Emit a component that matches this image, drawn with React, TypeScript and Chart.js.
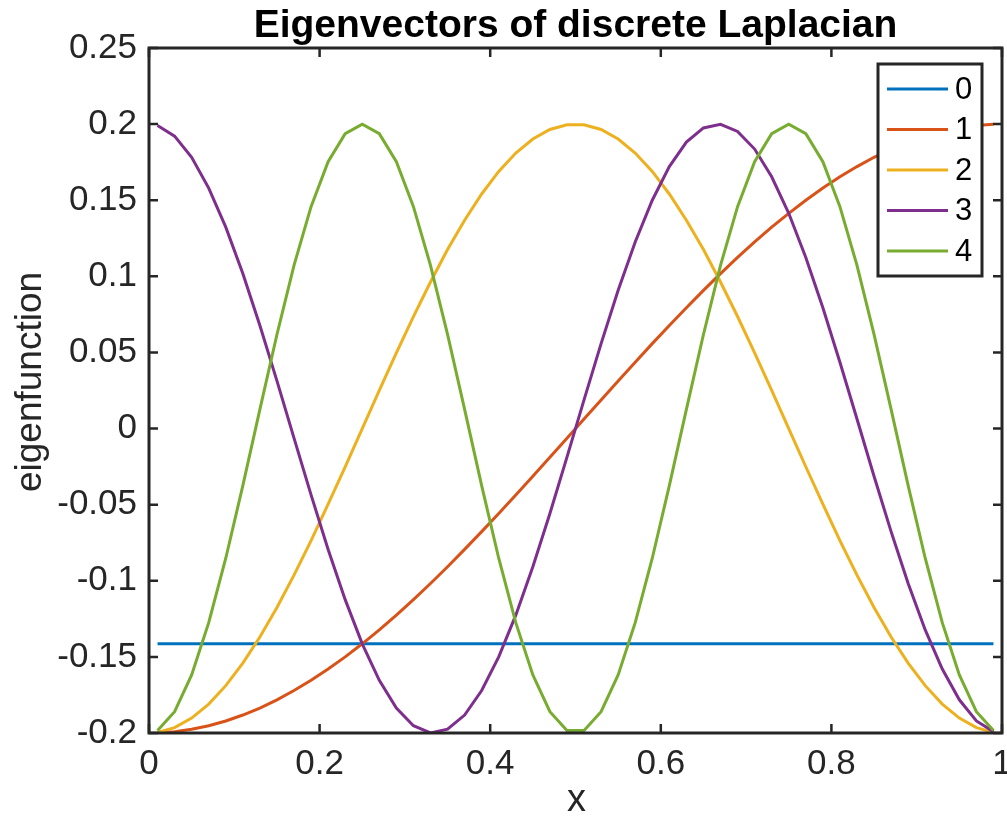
import React, { useEffect, useRef } from "react";
import { Chart, registerables } from "chart.js";

Chart.register(...registerables);

// ---------- data ----------
const xValues = [
  0.01, 0.03, 0.05, 0.07, 0.09, 0.11, 0.13, 0.15, 0.17, 0.19,
  0.21, 0.23, 0.25, 0.27, 0.29, 0.31, 0.33, 0.35, 0.37, 0.39,
  0.41, 0.43, 0.45, 0.47, 0.49, 0.51, 0.53, 0.55, 0.57, 0.59,
  0.61, 0.63, 0.65, 0.67, 0.69, 0.71, 0.73, 0.75, 0.77, 0.79,
  0.81, 0.83, 0.85, 0.87, 0.89, 0.91, 0.93, 0.95, 0.97, 0.99,
];

const mode0 = [
  -0.1414, -0.1414, -0.1414, -0.1414, -0.1414, -0.1414, -0.1414, -0.1414, -0.1414, -0.1414,
  -0.1414, -0.1414, -0.1414, -0.1414, -0.1414, -0.1414, -0.1414, -0.1414, -0.1414, -0.1414,
  -0.1414, -0.1414, -0.1414, -0.1414, -0.1414, -0.1414, -0.1414, -0.1414, -0.1414, -0.1414,
  -0.1414, -0.1414, -0.1414, -0.1414, -0.1414, -0.1414, -0.1414, -0.1414, -0.1414, -0.1414,
  -0.1414, -0.1414, -0.1414, -0.1414, -0.1414, -0.1414, -0.1414, -0.1414, -0.1414, -0.1414,
];

const mode1 = [
  -0.1999, -0.1991, -0.1975, -0.1952, -0.1921, -0.1882, -0.1836, -0.1782, -0.1721, -0.1654,
  -0.158, -0.15, -0.1414, -0.1323, -0.1226, -0.1124, -0.1018, -0.0908, -0.0794, -0.0677,
  -0.0558, -0.0436, -0.0313, -0.0188, -0.0063, 0.0063, 0.0188, 0.0313, 0.0436, 0.0558,
  0.0677, 0.0794, 0.0908, 0.1018, 0.1124, 0.1226, 0.1323, 0.1414, 0.15, 0.158,
  0.1654, 0.1721, 0.1782, 0.1836, 0.1882, 0.1921, 0.1952, 0.1975, 0.1991, 0.1999,
];

const mode2 = [
  -0.1996, -0.1965, -0.1902, -0.181, -0.1689, -0.1541, -0.1369, -0.1176, -0.0963, -0.0736,
  -0.0497, -0.0251, 0.0, 0.0251, 0.0497, 0.0736, 0.0963, 0.1176, 0.1369, 0.1541,
  0.1689, 0.181, 0.1902, 0.1965, 0.1996, 0.1996, 0.1965, 0.1902, 0.181, 0.1689,
  0.1541, 0.1369, 0.1176, 0.0963, 0.0736, 0.0497, 0.0251, 0.0, -0.0251, -0.0497,
  -0.0736, -0.0963, -0.1176, -0.1369, -0.1541, -0.1689, -0.181, -0.1902, -0.1965, -0.1996,
];

const mode3 = [
  0.1991, 0.1921, 0.1782, 0.158, 0.1323, 0.1018, 0.0677, 0.0313, -0.0063, -0.0436,
  -0.0794, -0.1124, -0.1414, -0.1654, -0.1836, -0.1952, -0.1999, -0.1975, -0.1882, -0.1721,
  -0.15, -0.1226, -0.0908, -0.0558, -0.0188, 0.0188, 0.0558, 0.0908, 0.1226, 0.15,
  0.1721, 0.1882, 0.1975, 0.1999, 0.1952, 0.1836, 0.1654, 0.1414, 0.1124, 0.0794,
  0.0436, 0.0063, -0.0313, -0.0677, -0.1018, -0.1323, -0.158, -0.1782, -0.1921, -0.1991,
];

const mode4 = [
  -0.1984, -0.186, -0.1618, -0.1275, -0.0852, -0.0375, 0.0126, 0.0618, 0.1072, 0.1458,
  0.1753, 0.1937, 0.2, 0.1937, 0.1753, 0.1458, 0.1072, 0.0618, 0.0126, -0.0375,
  -0.0852, -0.1275, -0.1618, -0.186, -0.1984, -0.1984, -0.186, -0.1618, -0.1275, -0.0852,
  -0.0375, 0.0126, 0.0618, 0.1072, 0.1458, 0.1753, 0.1937, 0.2, 0.1937, 0.1753,
  0.1458, 0.1072, 0.0618, 0.0126, -0.0375, -0.0852, -0.1275, -0.1618, -0.186, -0.1984,
];

const seriesLabels = ["0", "1", "2", "3", "4"];
const seriesColors = ["#0072BD", "#D95319", "#EDB120", "#7E2F8E", "#77AC30"];

const xTicks = [0, 0.2, 0.4, 0.6, 0.8, 1];
const xTickLabels = ["0", "0.2", "0.4", "0.6", "0.8", "1"];
const yTicks = [-0.2, -0.15, -0.1, -0.05, 0, 0.05, 0.1, 0.15, 0.2, 0.25];
const yTickLabels = ["-0.2", "-0.15", "-0.1", "-0.05", "0", "0.05", "0.1", "0.15", "0.2", "0.25"];

const titleText = "Eigenvectors of discrete Laplacian";
const xAxisLabel = "x";
const yAxisLabel = "eigenfunction";

// ---------- styling ----------
const FONT = '"Liberation Sans", Arial, Helvetica, sans-serif';
const AXIS_COLOR = "#262626";

const framePlugin = {
  id: "matlabFrame",
  afterDatasetsDraw(chart: any) {
    const { ctx, chartArea, scales } = chart;
    const { left, right, top, bottom } = chartArea;
    const xs = scales.x;
    const ys = scales.y;
    const tl = 9;
    ctx.save();
    ctx.strokeStyle = AXIS_COLOR;
    ctx.lineWidth = 2.5;
    ctx.beginPath();
    xTicks.forEach((v) => {
      const px = xs.getPixelForValue(v);
      ctx.moveTo(px, bottom);
      ctx.lineTo(px, bottom - tl);
      ctx.moveTo(px, top);
      ctx.lineTo(px, top + tl);
    });
    yTicks.forEach((v) => {
      const py = ys.getPixelForValue(v);
      ctx.moveTo(left, py);
      ctx.lineTo(left + tl, py);
      ctx.moveTo(right, py);
      ctx.lineTo(right - tl, py);
    });
    ctx.stroke();
    ctx.lineWidth = 3;
    ctx.strokeRect(left, top, right - left, bottom - top);
    ctx.restore();
  },
  afterDraw(chart: any) {
    const { ctx, chartArea } = chart;
    const { left, right } = chartArea;
    const cx = (left + right) / 2;
    ctx.save();
    // title
    ctx.fillStyle = "#000000";
    ctx.font = `bold 39px ${FONT}`;
    ctx.textAlign = "center";
    ctx.textBaseline = "alphabetic";
    ctx.fillText(titleText, cx, 37);
    // x label
    ctx.fillStyle = AXIS_COLOR;
    ctx.font = `38px ${FONT}`;
    ctx.fillText(xAxisLabel, cx + 1, 811);
    // y label
    ctx.save();
    ctx.translate(41, 382);
    ctx.rotate(-Math.PI / 2);
    ctx.font = `37px ${FONT}`;
    ctx.fillText(yAxisLabel, 0, 0);
    ctx.restore();

    // legend
    const lx = 878, ly = 64, lw = 104, lh = 212;
    ctx.fillStyle = "#ffffff";
    ctx.fillRect(lx, ly, lw, lh);
    ctx.strokeStyle = AXIS_COLOR;
    ctx.lineWidth = 3;
    ctx.strokeRect(lx, ly, lw, lh);
    ctx.font = `31px ${FONT}`;
    ctx.textAlign = "left";
    ctx.textBaseline = "middle";
    chart.data.datasets.forEach((ds: any, i: number) => {
      const ry = ly + 25 + i * 40.5;
      ctx.strokeStyle = ds.borderColor;
      ctx.lineWidth = 3;
      ctx.beginPath();
      ctx.moveTo(887, ry);
      ctx.lineTo(948, ry);
      ctx.stroke();
      ctx.fillStyle = "#000000";
      ctx.fillText(ds.label, 955, ry + 1);
    });
    ctx.restore();
  },
};

export default function App() {
  const canvasRef = useRef<HTMLCanvasElement | null>(null);

  useEffect(() => {
    const canvas = canvasRef.current;
    if (!canvas) return;
    const modes = [mode0, mode1, mode2, mode3, mode4];
    const datasets = modes.map((m, i) => ({
      label: seriesLabels[i],
      data: m.map((v, j) => ({ x: xValues[j], y: v })),
      borderColor: seriesColors[i],
      backgroundColor: seriesColors[i],
      borderWidth: 3,
      pointRadius: 0,
      pointHoverRadius: 0,
      tension: 0,
      fill: false,
      order: modes.length - 1 - i,
    }));

    const tickFont = { family: FONT, size: 35 };

    const chart = new Chart(canvas, {
      type: "line",
      data: { datasets },
      options: {
        animation: false,
        responsive: false,
        devicePixelRatio: 1,
        layout: { padding: { left: 0, right: 5, top: 48, bottom: 0 } },
        plugins: {
          legend: { display: false },
          title: { display: false },
          tooltip: { enabled: false },
        },
        scales: {
          x: {
            type: "linear",
            min: 0,
            max: 1,
            afterBuildTicks: (s: any) => {
              s.ticks = xTicks.map((v) => ({ value: v }));
            },
            afterFit: (s: any) => {
              s.height = 83;
              s.paddingLeft = 0;
              s.paddingRight = 0;
            },
            ticks: {
              autoSkip: false,
              maxRotation: 0,
              minRotation: 0,
              padding: 10,
              color: AXIS_COLOR,
              font: tickFont,
              callback: (v: any) => {
                const k = xTicks.indexOf(Number(v));
                return k >= 0 ? xTickLabels[k] : "";
              },
            },
            grid: { display: false, drawTicks: false },
            border: { display: false },
          },
          y: {
            type: "linear",
            min: -0.2,
            max: 0.25,
            afterBuildTicks: (s: any) => {
              s.ticks = yTicks.map((v) => ({ value: v }));
            },
            afterFit: (s: any) => {
              s.width = 149;
              s.paddingTop = 0;
              s.paddingBottom = 0;
            },
            ticks: {
              autoSkip: false,
              padding: 12,
              color: AXIS_COLOR,
              font: tickFont,
              callback: (v: any) => {
                const k = yTicks.findIndex((t) => Math.abs(t - Number(v)) < 1e-9);
                return k >= 0 ? yTickLabels[k] : "";
              },
            },
            grid: { display: false, drawTicks: false },
            border: { display: false },
          },
        },
      },
      plugins: [framePlugin],
    } as any);

    return () => {
      chart.destroy();
    };
  }, []);

  return (
    <div style={{ position: "absolute", left: 0, top: 0, width: 1007, height: 816, background: "#ffffff" }}>
      <canvas ref={canvasRef} width={1007} height={816} style={{ display: "block" }} />
    </div>
  );
}
